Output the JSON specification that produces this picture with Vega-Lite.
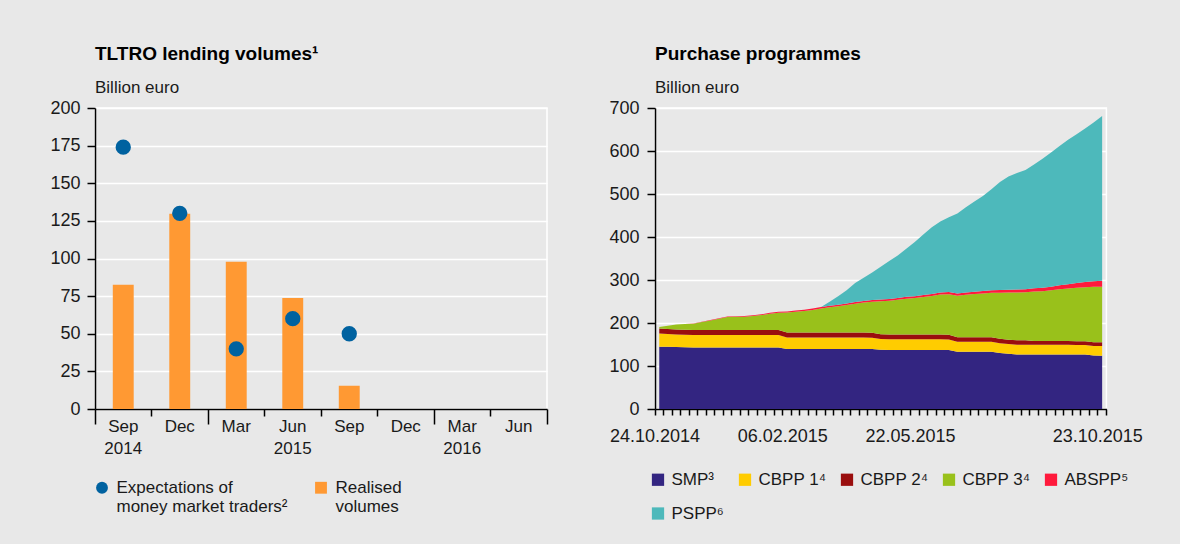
{
"$schema": "https://vega.github.io/schema/vega-lite/v6.json",
"background": "#e8e8e8",
"padding": {"left": 49, "top": 44, "right": 36, "bottom": 23},
"spacing": 59,
"resolve": {"scale": {"color": "independent", "shape": "independent"}, "legend": {"color": "independent", "shape": "independent"}},
"datasets": {
  "programmes": [
    {"prog": "SMP³", "rank": 1},
    {"prog": "CBPP 1⁴", "rank": 2},
    {"prog": "CBPP 2⁴", "rank": 3},
    {"prog": "CBPP 3⁴", "rank": 4},
    {"prog": "ABSPP⁵", "rank": 5},
    {"prog": "PSPP⁶", "rank": 6}
  ]
},
"config": {
  "font": "Liberation Sans",
  "view": {"stroke": "#ffffff", "strokeWidth": 1.5},
  "axis": {"labelFont": "Liberation Sans", "labelColor": "#1a1a1a", "domainColor": "#000000", "domainWidth": 1.5, "tickColor": "#000000", "tickWidth": 1.5, "gridColor": "#ffffff", "gridWidth": 1.5},
  "legend": {"labelFont": "Liberation Sans", "labelColor": "#1a1a1a"},
  "title": {"font": "Liberation Sans", "fontSize": 19, "fontWeight": "bold", "color": "#000000", "anchor": "start", "frame": "group", "subtitleFont": "Liberation Sans", "subtitleFontSize": 17, "subtitleColor": "#1a1a1a", "subtitlePadding": 16, "offset": 3}
},
"hconcat": [
{
  "width": 452, "height": 301,
  "title": {"text": "TLTRO lending volumes¹", "subtitle": "Billion euro"},
  "data": {"values": [
    {"quarter": "Sep 2014", "series": "Realised volumes", "value": 82.6},
    {"quarter": "Dec 2014", "series": "Realised volumes", "value": 129.8},
    {"quarter": "Mar 2015", "series": "Realised volumes", "value": 97.8},
    {"quarter": "Jun 2015", "series": "Realised volumes", "value": 73.8},
    {"quarter": "Sep 2015", "series": "Realised volumes", "value": 15.5},
    {"quarter": "Sep 2014", "series": "Expectations of money market traders²", "value": 174},
    {"quarter": "Dec 2014", "series": "Expectations of money market traders²", "value": 130},
    {"quarter": "Mar 2015", "series": "Expectations of money market traders²", "value": 40},
    {"quarter": "Jun 2015", "series": "Expectations of money market traders²", "value": 60},
    {"quarter": "Sep 2015", "series": "Expectations of money market traders²", "value": 50}
  ]},
  "encoding": {
    "y": {"field": "value", "type": "quantitative", "scale": {"domain": [0, 200]},
      "axis": {"title": null, "values": [0,25,50,75,100,125,150,175,200], "tickSize": 8, "labelPadding": 7, "labelFontSize": 18, "grid": true}}
  },
  "layer": [
    {
      "transform": [{"filter": "datum.series == 'Realised volumes'"}],
      "mark": {"type": "bar", "width": {"band": 0.37}},
      "encoding": {
        "x": {"field": "quarter", "type": "ordinal",
          "scale": {"domain": ["Sep 2014","Dec 2014","Mar 2015","Jun 2015","Sep 2015","Dec 2015","Mar 2016","Jun 2016"], "paddingInner": 0, "paddingOuter": 0},
          "axis": {"title": null, "orient": "bottom", "bandPosition": 1, "tickExtra": true,
            "tickSize": {"condition": {"test": "datum.extra || datum.value == 'Dec 2014' || datum.value == 'Dec 2015' || datum.value == 'Jun 2016'", "value": 15}, "value": 7},
            "labelExpr": "datum.value == 'Sep 2014' ? '2014' : datum.value == 'Jun 2015' ? '2015' : datum.value == 'Mar 2016' ? '2016' : ''",
            "labelPadding": 24, "labelFontSize": 17, "labelAngle": 0, "labelOverlap": false, "grid": false}},
        "color": {"field": "series", "type": "nominal",
          "scale": {"domain": ["Expectations of money market traders²", "Realised volumes"], "range": ["#0062a0", "#ff9933"]},
          "legend": {"orient": "none", "legendX": -1.5, "legendY": 371, "direction": "horizontal", "columns": 2, "title": null, "labelFontSize": 17, "labelLimit": 300, "symbolSize": 140, "labelOffset": 6, "columnPadding": 25, "padding": 0, "symbolStrokeWidth": 0,
            "labelExpr": "datum.label == 'Realised volumes' ? ['Realised', 'volumes'] : ['Expectations of', 'money market traders²']"}}
      }
    },
    {
      "transform": [{"filter": "datum.series != 'Realised volumes'"}],
      "mark": {"type": "point", "filled": true, "size": 235, "opacity": 1},
      "encoding": {
        "x": {"field": "quarter", "type": "ordinal",
          "scale": {"domain": ["Sep 2014","Dec 2014","Mar 2015","Jun 2015","Sep 2015","Dec 2015","Mar 2016","Jun 2016"], "paddingInner": 0, "paddingOuter": 0},
          "axis": {"title": null, "orient": "bottom", "domain": false, "ticks": false, "labelExpr": "substring(datum.value, 0, 3)", "labelPadding": 9, "labelFontSize": 17, "labelAngle": 0, "grid": false}},
        "color": {"field": "series", "type": "nominal",
          "scale": {"domain": ["Expectations of money market traders²", "Realised volumes"], "range": ["#0062a0", "#ff9933"]},
          "legend": {"orient": "none", "legendX": -1.5, "legendY": 371, "direction": "horizontal", "columns": 2, "title": null, "labelFontSize": 17, "labelLimit": 300, "symbolSize": 140, "labelOffset": 6, "columnPadding": 25, "padding": 0, "symbolStrokeWidth": 0,
            "labelExpr": "datum.label == 'Realised volumes' ? ['Realised', 'volumes'] : ['Expectations of', 'money market traders²']"}},
        "shape": {"field": "series", "type": "nominal",
          "scale": {"domain": ["Expectations of money market traders²", "Realised volumes"], "range": ["circle", "square"]},
          "legend": {"orient": "none", "legendX": -1.5, "legendY": 371, "direction": "horizontal", "columns": 2, "title": null, "labelFontSize": 17, "labelLimit": 300, "symbolSize": 140, "labelOffset": 6, "columnPadding": 25, "padding": 0, "symbolStrokeWidth": 0,
            "labelExpr": "datum.label == 'Realised volumes' ? ['Realised', 'volumes'] : ['Expectations of', 'money market traders²']"}}
      }
    }
  ],
  "resolve": {"axis": {"x": "independent"}}
},
{
  "width": 451.4, "height": 301,
  "title": {"text": "Purchase programmes", "subtitle": "Billion euro"},
  "data": {"values": [
{"date":"24.10.2014","prog":"SMP³","value":144.8},{"date":"24.10.2014","prog":"CBPP 1⁴","value":31.0},{"date":"24.10.2014","prog":"CBPP 2⁴","value":11.6},{"date":"24.10.2014","prog":"CBPP 3⁴","value":3.5},{"date":"24.10.2014","prog":"ABSPP⁵","value":0},{"date":"24.10.2014","prog":"PSPP⁶","value":0},
{"date":"31.10.2014","prog":"SMP³","value":144.5},{"date":"31.10.2014","prog":"CBPP 1⁴","value":29.7},{"date":"31.10.2014","prog":"CBPP 2⁴","value":11.6},{"date":"31.10.2014","prog":"CBPP 3⁴","value":8.0},{"date":"31.10.2014","prog":"ABSPP⁵","value":0},{"date":"31.10.2014","prog":"PSPP⁶","value":0},
{"date":"07.11.2014","prog":"SMP³","value":144.1},{"date":"07.11.2014","prog":"CBPP 1⁴","value":29.2},{"date":"07.11.2014","prog":"CBPP 2⁴","value":11.6},{"date":"07.11.2014","prog":"CBPP 3⁴","value":11.6},{"date":"07.11.2014","prog":"ABSPP⁵","value":0},{"date":"07.11.2014","prog":"PSPP⁶","value":0},
{"date":"14.11.2014","prog":"SMP³","value":143.7},{"date":"14.11.2014","prog":"CBPP 1⁴","value":29.1},{"date":"14.11.2014","prog":"CBPP 2⁴","value":11.6},{"date":"14.11.2014","prog":"CBPP 3⁴","value":13.1},{"date":"14.11.2014","prog":"ABSPP⁵","value":0},{"date":"14.11.2014","prog":"PSPP⁶","value":0},
{"date":"21.11.2014","prog":"SMP³","value":143.3},{"date":"21.11.2014","prog":"CBPP 1⁴","value":29.0},{"date":"21.11.2014","prog":"CBPP 2⁴","value":11.6},{"date":"21.11.2014","prog":"CBPP 3⁴","value":14.3},{"date":"21.11.2014","prog":"ABSPP⁵","value":0.4},{"date":"21.11.2014","prog":"PSPP⁶","value":0},
{"date":"28.11.2014","prog":"SMP³","value":143.3},{"date":"28.11.2014","prog":"CBPP 1⁴","value":29.0},{"date":"28.11.2014","prog":"CBPP 2⁴","value":11.6},{"date":"28.11.2014","prog":"CBPP 3⁴","value":18.6},{"date":"28.11.2014","prog":"ABSPP⁵","value":0.6},{"date":"28.11.2014","prog":"PSPP⁶","value":0},
{"date":"05.12.2014","prog":"SMP³","value":143.3},{"date":"05.12.2014","prog":"CBPP 1⁴","value":29.0},{"date":"05.12.2014","prog":"CBPP 2⁴","value":11.6},{"date":"05.12.2014","prog":"CBPP 3⁴","value":22.1},{"date":"05.12.2014","prog":"ABSPP⁵","value":0.9},{"date":"05.12.2014","prog":"PSPP⁶","value":0},
{"date":"12.12.2014","prog":"SMP³","value":143.3},{"date":"12.12.2014","prog":"CBPP 1⁴","value":29.0},{"date":"12.12.2014","prog":"CBPP 2⁴","value":11.6},{"date":"12.12.2014","prog":"CBPP 3⁴","value":26.1},{"date":"12.12.2014","prog":"ABSPP⁵","value":1.2},{"date":"12.12.2014","prog":"PSPP⁶","value":0},
{"date":"19.12.2014","prog":"SMP³","value":143.3},{"date":"19.12.2014","prog":"CBPP 1⁴","value":29.0},{"date":"19.12.2014","prog":"CBPP 2⁴","value":11.6},{"date":"19.12.2014","prog":"CBPP 3⁴","value":29.9},{"date":"19.12.2014","prog":"ABSPP⁵","value":1.5},{"date":"19.12.2014","prog":"PSPP⁶","value":0},
{"date":"26.12.2014","prog":"SMP³","value":143.3},{"date":"26.12.2014","prog":"CBPP 1⁴","value":29.0},{"date":"26.12.2014","prog":"CBPP 2⁴","value":11.6},{"date":"26.12.2014","prog":"CBPP 3⁴","value":30.4},{"date":"26.12.2014","prog":"ABSPP⁵","value":1.6},{"date":"26.12.2014","prog":"PSPP⁶","value":0},
{"date":"02.01.2015","prog":"SMP³","value":143.3},{"date":"02.01.2015","prog":"CBPP 1⁴","value":28.7},{"date":"02.01.2015","prog":"CBPP 2⁴","value":11.6},{"date":"02.01.2015","prog":"CBPP 3⁴","value":30.9},{"date":"02.01.2015","prog":"ABSPP⁵","value":1.7},{"date":"02.01.2015","prog":"PSPP⁶","value":0},
{"date":"09.01.2015","prog":"SMP³","value":143.3},{"date":"09.01.2015","prog":"CBPP 1⁴","value":28.7},{"date":"09.01.2015","prog":"CBPP 2⁴","value":11.6},{"date":"09.01.2015","prog":"CBPP 3⁴","value":32.4},{"date":"09.01.2015","prog":"ABSPP⁵","value":1.8},{"date":"09.01.2015","prog":"PSPP⁶","value":0},
{"date":"16.01.2015","prog":"SMP³","value":143.3},{"date":"16.01.2015","prog":"CBPP 1⁴","value":28.7},{"date":"16.01.2015","prog":"CBPP 2⁴","value":11.6},{"date":"16.01.2015","prog":"CBPP 3⁴","value":34.8},{"date":"16.01.2015","prog":"ABSPP⁵","value":2.0},{"date":"16.01.2015","prog":"PSPP⁶","value":0},
{"date":"23.01.2015","prog":"SMP³","value":143.3},{"date":"23.01.2015","prog":"CBPP 1⁴","value":28.7},{"date":"23.01.2015","prog":"CBPP 2⁴","value":11.6},{"date":"23.01.2015","prog":"CBPP 3⁴","value":37.9},{"date":"23.01.2015","prog":"ABSPP⁵","value":2.2},{"date":"23.01.2015","prog":"PSPP⁶","value":0},
{"date":"30.01.2015","prog":"SMP³","value":143.3},{"date":"30.01.2015","prog":"CBPP 1⁴","value":28.7},{"date":"30.01.2015","prog":"CBPP 2⁴","value":11.6},{"date":"30.01.2015","prog":"CBPP 3⁴","value":40.2},{"date":"30.01.2015","prog":"ABSPP⁵","value":2.4},{"date":"30.01.2015","prog":"PSPP⁶","value":0},
{"date":"06.02.2015","prog":"SMP³","value":139.4},{"date":"06.02.2015","prog":"CBPP 1⁴","value":27.1},{"date":"06.02.2015","prog":"CBPP 2⁴","value":11.4},{"date":"06.02.2015","prog":"CBPP 3⁴","value":46.3},{"date":"06.02.2015","prog":"ABSPP⁵","value":2.6},{"date":"06.02.2015","prog":"PSPP⁶","value":0},
{"date":"13.02.2015","prog":"SMP³","value":139.4},{"date":"13.02.2015","prog":"CBPP 1⁴","value":27.1},{"date":"13.02.2015","prog":"CBPP 2⁴","value":11.4},{"date":"13.02.2015","prog":"CBPP 3⁴","value":48.1},{"date":"13.02.2015","prog":"ABSPP⁵","value":2.8},{"date":"13.02.2015","prog":"PSPP⁶","value":0},
{"date":"20.02.2015","prog":"SMP³","value":139.4},{"date":"20.02.2015","prog":"CBPP 1⁴","value":27.1},{"date":"20.02.2015","prog":"CBPP 2⁴","value":11.4},{"date":"20.02.2015","prog":"CBPP 3⁴","value":49.8},{"date":"20.02.2015","prog":"ABSPP⁵","value":2.9},{"date":"20.02.2015","prog":"PSPP⁶","value":0},
{"date":"27.02.2015","prog":"SMP³","value":139.4},{"date":"27.02.2015","prog":"CBPP 1⁴","value":27.1},{"date":"27.02.2015","prog":"CBPP 2⁴","value":11.4},{"date":"27.02.2015","prog":"CBPP 3⁴","value":52.6},{"date":"27.02.2015","prog":"ABSPP⁵","value":3.0},{"date":"27.02.2015","prog":"PSPP⁶","value":0},
{"date":"06.03.2015","prog":"SMP³","value":139.4},{"date":"06.03.2015","prog":"CBPP 1⁴","value":27.1},{"date":"06.03.2015","prog":"CBPP 2⁴","value":11.4},{"date":"06.03.2015","prog":"CBPP 3⁴","value":56.0},{"date":"06.03.2015","prog":"ABSPP⁵","value":3.2},{"date":"06.03.2015","prog":"PSPP⁶","value":0},
{"date":"13.03.2015","prog":"SMP³","value":139.4},{"date":"13.03.2015","prog":"CBPP 1⁴","value":27.1},{"date":"13.03.2015","prog":"CBPP 2⁴","value":11.4},{"date":"13.03.2015","prog":"CBPP 3⁴","value":58.6},{"date":"13.03.2015","prog":"ABSPP⁵","value":3.4},{"date":"13.03.2015","prog":"PSPP⁶","value":9.8},
{"date":"20.03.2015","prog":"SMP³","value":139.4},{"date":"20.03.2015","prog":"CBPP 1⁴","value":27.1},{"date":"20.03.2015","prog":"CBPP 2⁴","value":11.4},{"date":"20.03.2015","prog":"CBPP 3⁴","value":61.1},{"date":"20.03.2015","prog":"ABSPP⁵","value":3.5},{"date":"20.03.2015","prog":"PSPP⁶","value":20.0},
{"date":"27.03.2015","prog":"SMP³","value":139.4},{"date":"27.03.2015","prog":"CBPP 1⁴","value":27.1},{"date":"27.03.2015","prog":"CBPP 2⁴","value":11.4},{"date":"27.03.2015","prog":"CBPP 3⁴","value":64.1},{"date":"27.03.2015","prog":"ABSPP⁵","value":3.6},{"date":"27.03.2015","prog":"PSPP⁶","value":30.4},
{"date":"03.04.2015","prog":"SMP³","value":139.4},{"date":"03.04.2015","prog":"CBPP 1⁴","value":27.1},{"date":"03.04.2015","prog":"CBPP 2⁴","value":11.4},{"date":"03.04.2015","prog":"CBPP 3⁴","value":67.1},{"date":"03.04.2015","prog":"ABSPP⁵","value":3.7},{"date":"03.04.2015","prog":"PSPP⁶","value":44.3},
{"date":"10.04.2015","prog":"SMP³","value":139.4},{"date":"10.04.2015","prog":"CBPP 1⁴","value":27.1},{"date":"10.04.2015","prog":"CBPP 2⁴","value":11.4},{"date":"10.04.2015","prog":"CBPP 3⁴","value":69.6},{"date":"10.04.2015","prog":"ABSPP⁵","value":3.8},{"date":"10.04.2015","prog":"PSPP⁶","value":53.7},
{"date":"17.04.2015","prog":"SMP³","value":139.4},{"date":"17.04.2015","prog":"CBPP 1⁴","value":26.5},{"date":"17.04.2015","prog":"CBPP 2⁴","value":11.4},{"date":"17.04.2015","prog":"CBPP 3⁴","value":72.0},{"date":"17.04.2015","prog":"ABSPP⁵","value":3.9},{"date":"17.04.2015","prog":"PSPP⁶","value":64.3},
{"date":"24.04.2015","prog":"SMP³","value":137.8},{"date":"24.04.2015","prog":"CBPP 1⁴","value":25.0},{"date":"24.04.2015","prog":"CBPP 2⁴","value":11.0},{"date":"24.04.2015","prog":"CBPP 3⁴","value":76.7},{"date":"24.04.2015","prog":"ABSPP⁵","value":4.0},{"date":"24.04.2015","prog":"PSPP⁶","value":76.5},
{"date":"01.05.2015","prog":"SMP³","value":137.3},{"date":"01.05.2015","prog":"CBPP 1⁴","value":25.0},{"date":"01.05.2015","prog":"CBPP 2⁴","value":11.0},{"date":"01.05.2015","prog":"CBPP 3⁴","value":78.2},{"date":"01.05.2015","prog":"ABSPP⁵","value":4.1},{"date":"01.05.2015","prog":"PSPP⁶","value":88.4},
{"date":"08.05.2015","prog":"SMP³","value":137.3},{"date":"08.05.2015","prog":"CBPP 1⁴","value":25.0},{"date":"08.05.2015","prog":"CBPP 2⁴","value":11.0},{"date":"08.05.2015","prog":"CBPP 3⁴","value":80.7},{"date":"08.05.2015","prog":"ABSPP⁵","value":4.2},{"date":"08.05.2015","prog":"PSPP⁶","value":99.0},
{"date":"15.05.2015","prog":"SMP³","value":137.3},{"date":"15.05.2015","prog":"CBPP 1⁴","value":25.0},{"date":"15.05.2015","prog":"CBPP 2⁴","value":11.0},{"date":"15.05.2015","prog":"CBPP 3⁴","value":83.2},{"date":"15.05.2015","prog":"ABSPP⁵","value":4.4},{"date":"15.05.2015","prog":"PSPP⁶","value":112.0},
{"date":"22.05.2015","prog":"SMP³","value":137.3},{"date":"22.05.2015","prog":"CBPP 1⁴","value":25.0},{"date":"22.05.2015","prog":"CBPP 2⁴","value":11.0},{"date":"22.05.2015","prog":"CBPP 3⁴","value":84.7},{"date":"22.05.2015","prog":"ABSPP⁵","value":4.5},{"date":"22.05.2015","prog":"PSPP⁶","value":126.0},
{"date":"29.05.2015","prog":"SMP³","value":137.3},{"date":"29.05.2015","prog":"CBPP 1⁴","value":25.0},{"date":"29.05.2015","prog":"CBPP 2⁴","value":11.0},{"date":"29.05.2015","prog":"CBPP 3⁴","value":87.2},{"date":"29.05.2015","prog":"ABSPP⁵","value":4.6},{"date":"29.05.2015","prog":"PSPP⁶","value":141.0},
{"date":"05.06.2015","prog":"SMP³","value":137.3},{"date":"05.06.2015","prog":"CBPP 1⁴","value":25.0},{"date":"05.06.2015","prog":"CBPP 2⁴","value":11.0},{"date":"05.06.2015","prog":"CBPP 3⁴","value":89.7},{"date":"05.06.2015","prog":"ABSPP⁵","value":4.7},{"date":"05.06.2015","prog":"PSPP⁶","value":155.0},
{"date":"12.06.2015","prog":"SMP³","value":137.3},{"date":"12.06.2015","prog":"CBPP 1⁴","value":25.0},{"date":"12.06.2015","prog":"CBPP 2⁴","value":11.0},{"date":"12.06.2015","prog":"CBPP 3⁴","value":92.7},{"date":"12.06.2015","prog":"ABSPP⁵","value":4.8},{"date":"12.06.2015","prog":"PSPP⁶","value":165.0},
{"date":"19.06.2015","prog":"SMP³","value":137.0},{"date":"19.06.2015","prog":"CBPP 1⁴","value":24.5},{"date":"19.06.2015","prog":"CBPP 2⁴","value":11.0},{"date":"19.06.2015","prog":"CBPP 3⁴","value":94.5},{"date":"19.06.2015","prog":"ABSPP⁵","value":5.0},{"date":"19.06.2015","prog":"PSPP⁶","value":174.0},
{"date":"26.06.2015","prog":"SMP³","value":133.2},{"date":"26.06.2015","prog":"CBPP 1⁴","value":23.2},{"date":"26.06.2015","prog":"CBPP 2⁴","value":10.2},{"date":"26.06.2015","prog":"CBPP 3⁴","value":96.9},{"date":"26.06.2015","prog":"ABSPP⁵","value":5.2},{"date":"26.06.2015","prog":"PSPP⁶","value":186.0},
{"date":"03.07.2015","prog":"SMP³","value":133.2},{"date":"03.07.2015","prog":"CBPP 1⁴","value":23.2},{"date":"03.07.2015","prog":"CBPP 2⁴","value":10.2},{"date":"03.07.2015","prog":"CBPP 3⁴","value":98.9},{"date":"03.07.2015","prog":"ABSPP⁵","value":5.4},{"date":"03.07.2015","prog":"PSPP⁶","value":198.0},
{"date":"10.07.2015","prog":"SMP³","value":133.2},{"date":"10.07.2015","prog":"CBPP 1⁴","value":23.2},{"date":"10.07.2015","prog":"CBPP 2⁴","value":10.2},{"date":"10.07.2015","prog":"CBPP 3⁴","value":100.6},{"date":"10.07.2015","prog":"ABSPP⁵","value":5.6},{"date":"10.07.2015","prog":"PSPP⁶","value":210.0},
{"date":"17.07.2015","prog":"SMP³","value":133.2},{"date":"17.07.2015","prog":"CBPP 1⁴","value":23.2},{"date":"17.07.2015","prog":"CBPP 2⁴","value":10.2},{"date":"17.07.2015","prog":"CBPP 3⁴","value":102.0},{"date":"17.07.2015","prog":"ABSPP⁵","value":5.8},{"date":"17.07.2015","prog":"PSPP⁶","value":221.0},
{"date":"24.07.2015","prog":"SMP³","value":133.2},{"date":"24.07.2015","prog":"CBPP 1⁴","value":23.2},{"date":"24.07.2015","prog":"CBPP 2⁴","value":10.2},{"date":"24.07.2015","prog":"CBPP 3⁴","value":103.5},{"date":"24.07.2015","prog":"ABSPP⁵","value":6.0},{"date":"24.07.2015","prog":"PSPP⁶","value":235.0},
{"date":"31.07.2015","prog":"SMP³","value":130.5},{"date":"31.07.2015","prog":"CBPP 1⁴","value":22.5},{"date":"31.07.2015","prog":"CBPP 2⁴","value":10.2},{"date":"31.07.2015","prog":"CBPP 3⁴","value":107.3},{"date":"31.07.2015","prog":"ABSPP⁵","value":6.3},{"date":"31.07.2015","prog":"PSPP⁶","value":251.0},
{"date":"07.08.2015","prog":"SMP³","value":128.5},{"date":"07.08.2015","prog":"CBPP 1⁴","value":22.5},{"date":"07.08.2015","prog":"CBPP 2⁴","value":10.2},{"date":"07.08.2015","prog":"CBPP 3⁴","value":109.8},{"date":"07.08.2015","prog":"ABSPP⁵","value":6.6},{"date":"07.08.2015","prog":"PSPP⁶","value":263.0},
{"date":"14.08.2015","prog":"SMP³","value":127.0},{"date":"14.08.2015","prog":"CBPP 1⁴","value":22.5},{"date":"14.08.2015","prog":"CBPP 2⁴","value":10.2},{"date":"14.08.2015","prog":"CBPP 3⁴","value":111.3},{"date":"14.08.2015","prog":"ABSPP⁵","value":6.9},{"date":"14.08.2015","prog":"PSPP⁶","value":271.0},
{"date":"21.08.2015","prog":"SMP³","value":127.0},{"date":"21.08.2015","prog":"CBPP 1⁴","value":22.5},{"date":"21.08.2015","prog":"CBPP 2⁴","value":10.2},{"date":"21.08.2015","prog":"CBPP 3⁴","value":111.8},{"date":"21.08.2015","prog":"ABSPP⁵","value":7.2},{"date":"21.08.2015","prog":"PSPP⁶","value":277.0},
{"date":"28.08.2015","prog":"SMP³","value":127.0},{"date":"28.08.2015","prog":"CBPP 1⁴","value":22.5},{"date":"28.08.2015","prog":"CBPP 2⁴","value":8.6},{"date":"28.08.2015","prog":"CBPP 3⁴","value":114.9},{"date":"28.08.2015","prog":"ABSPP⁵","value":7.6},{"date":"28.08.2015","prog":"PSPP⁶","value":288.0},
{"date":"04.09.2015","prog":"SMP³","value":127.0},{"date":"04.09.2015","prog":"CBPP 1⁴","value":22.5},{"date":"04.09.2015","prog":"CBPP 2⁴","value":8.6},{"date":"04.09.2015","prog":"CBPP 3⁴","value":115.9},{"date":"04.09.2015","prog":"ABSPP⁵","value":8.0},{"date":"04.09.2015","prog":"PSPP⁶","value":300.0},
{"date":"11.09.2015","prog":"SMP³","value":127.0},{"date":"11.09.2015","prog":"CBPP 1⁴","value":22.5},{"date":"11.09.2015","prog":"CBPP 2⁴","value":8.6},{"date":"11.09.2015","prog":"CBPP 3⁴","value":117.9},{"date":"11.09.2015","prog":"ABSPP⁵","value":8.5},{"date":"11.09.2015","prog":"PSPP⁶","value":312.0},
{"date":"18.09.2015","prog":"SMP³","value":127.0},{"date":"18.09.2015","prog":"CBPP 1⁴","value":22.5},{"date":"18.09.2015","prog":"CBPP 2⁴","value":8.6},{"date":"18.09.2015","prog":"CBPP 3⁴","value":120.4},{"date":"18.09.2015","prog":"ABSPP⁵","value":9.2},{"date":"18.09.2015","prog":"PSPP⁶","value":324.0},
{"date":"25.09.2015","prog":"SMP³","value":127.0},{"date":"25.09.2015","prog":"CBPP 1⁴","value":22.5},{"date":"25.09.2015","prog":"CBPP 2⁴","value":8.6},{"date":"25.09.2015","prog":"CBPP 3⁴","value":121.9},{"date":"25.09.2015","prog":"ABSPP⁵","value":10.2},{"date":"25.09.2015","prog":"PSPP⁶","value":336.0},
{"date":"02.10.2015","prog":"SMP³","value":126.5},{"date":"02.10.2015","prog":"CBPP 1⁴","value":22.5},{"date":"02.10.2015","prog":"CBPP 2⁴","value":8.6},{"date":"02.10.2015","prog":"CBPP 3⁴","value":124.3},{"date":"02.10.2015","prog":"ABSPP⁵","value":11.3},{"date":"02.10.2015","prog":"PSPP⁶","value":346.0},
{"date":"09.10.2015","prog":"SMP³","value":126.5},{"date":"09.10.2015","prog":"CBPP 1⁴","value":22.5},{"date":"09.10.2015","prog":"CBPP 2⁴","value":8.6},{"date":"09.10.2015","prog":"CBPP 3⁴","value":125.4},{"date":"09.10.2015","prog":"ABSPP⁵","value":12.2},{"date":"09.10.2015","prog":"PSPP⁶","value":357.0},
{"date":"16.10.2015","prog":"SMP³","value":124.2},{"date":"16.10.2015","prog":"CBPP 1⁴","value":22.5},{"date":"16.10.2015","prog":"CBPP 2⁴","value":8.6},{"date":"16.10.2015","prog":"CBPP 3⁴","value":128.9},{"date":"16.10.2015","prog":"ABSPP⁵","value":13.0},{"date":"16.10.2015","prog":"PSPP⁶","value":369.0},
{"date":"23.10.2015","prog":"SMP³","value":123.9},{"date":"23.10.2015","prog":"CBPP 1⁴","value":22.5},{"date":"23.10.2015","prog":"CBPP 2⁴","value":8.6},{"date":"23.10.2015","prog":"CBPP 3⁴","value":129.2},{"date":"23.10.2015","prog":"ABSPP⁵","value":13.9},{"date":"23.10.2015","prog":"PSPP⁶","value":383.3}
  ]},
  "transform": [{"lookup": "prog", "from": {"data": {"name": "programmes"}, "key": "prog", "fields": ["rank"]}}],
  "mark": {"type": "area", "interpolate": "linear"},
  "encoding": {
    "x": {"field": "date", "type": "ordinal", "sort": null, "bandPosition": 0.5,
      "scale": {"type": "band", "paddingInner": 0, "paddingOuter": 0},
      "axis": {"title": null, "bandPosition": 1, "tickExtra": true, "tickSize": 6, "labelOffset": -4.3, "labelPadding": 12, "labelFontSize": 18, "labelAngle": 0, "labelOverlap": false, "labelBound": false, "grid": false,
        "labelExpr": "indexof(['24.10.2014','06.02.2015','22.05.2015','23.10.2015'], datum.value) >= 0 ? datum.value : ''"}},
    "y": {"field": "value", "type": "quantitative", "stack": "zero", "scale": {"domain": [0, 700]},
      "axis": {"title": null, "values": [0,100,200,300,400,500,600,700], "tickSize": 8, "labelPadding": 8, "labelFontSize": 18, "grid": true}},
    "order": {"field": "rank", "type": "quantitative", "sort": "ascending"},
    "color": {"field": "prog", "type": "nominal", "sort": ["SMP³","CBPP 1⁴","CBPP 2⁴","CBPP 3⁴","ABSPP⁵","PSPP⁶"],
      "scale": {"domain": ["SMP³","CBPP 1⁴","CBPP 2⁴","CBPP 3⁴","ABSPP⁵","PSPP⁶"], "range": ["#332581","#ffcc00","#9a0e0e","#99c11b","#ff1a3c","#4db9bb"]},
      "legend": {"orient": "none", "legendX": -5.5, "legendY": 363, "direction": "horizontal", "columns": 5, "title": null, "symbolType": "square", "symbolSize": 150, "symbolStrokeWidth": 0, "labelFontSize": 17, "labelOffset": 5, "columnPadding": 12, "rowPadding": 16, "padding": 0, "labelLimit": 200}}
  }
}
]
}
